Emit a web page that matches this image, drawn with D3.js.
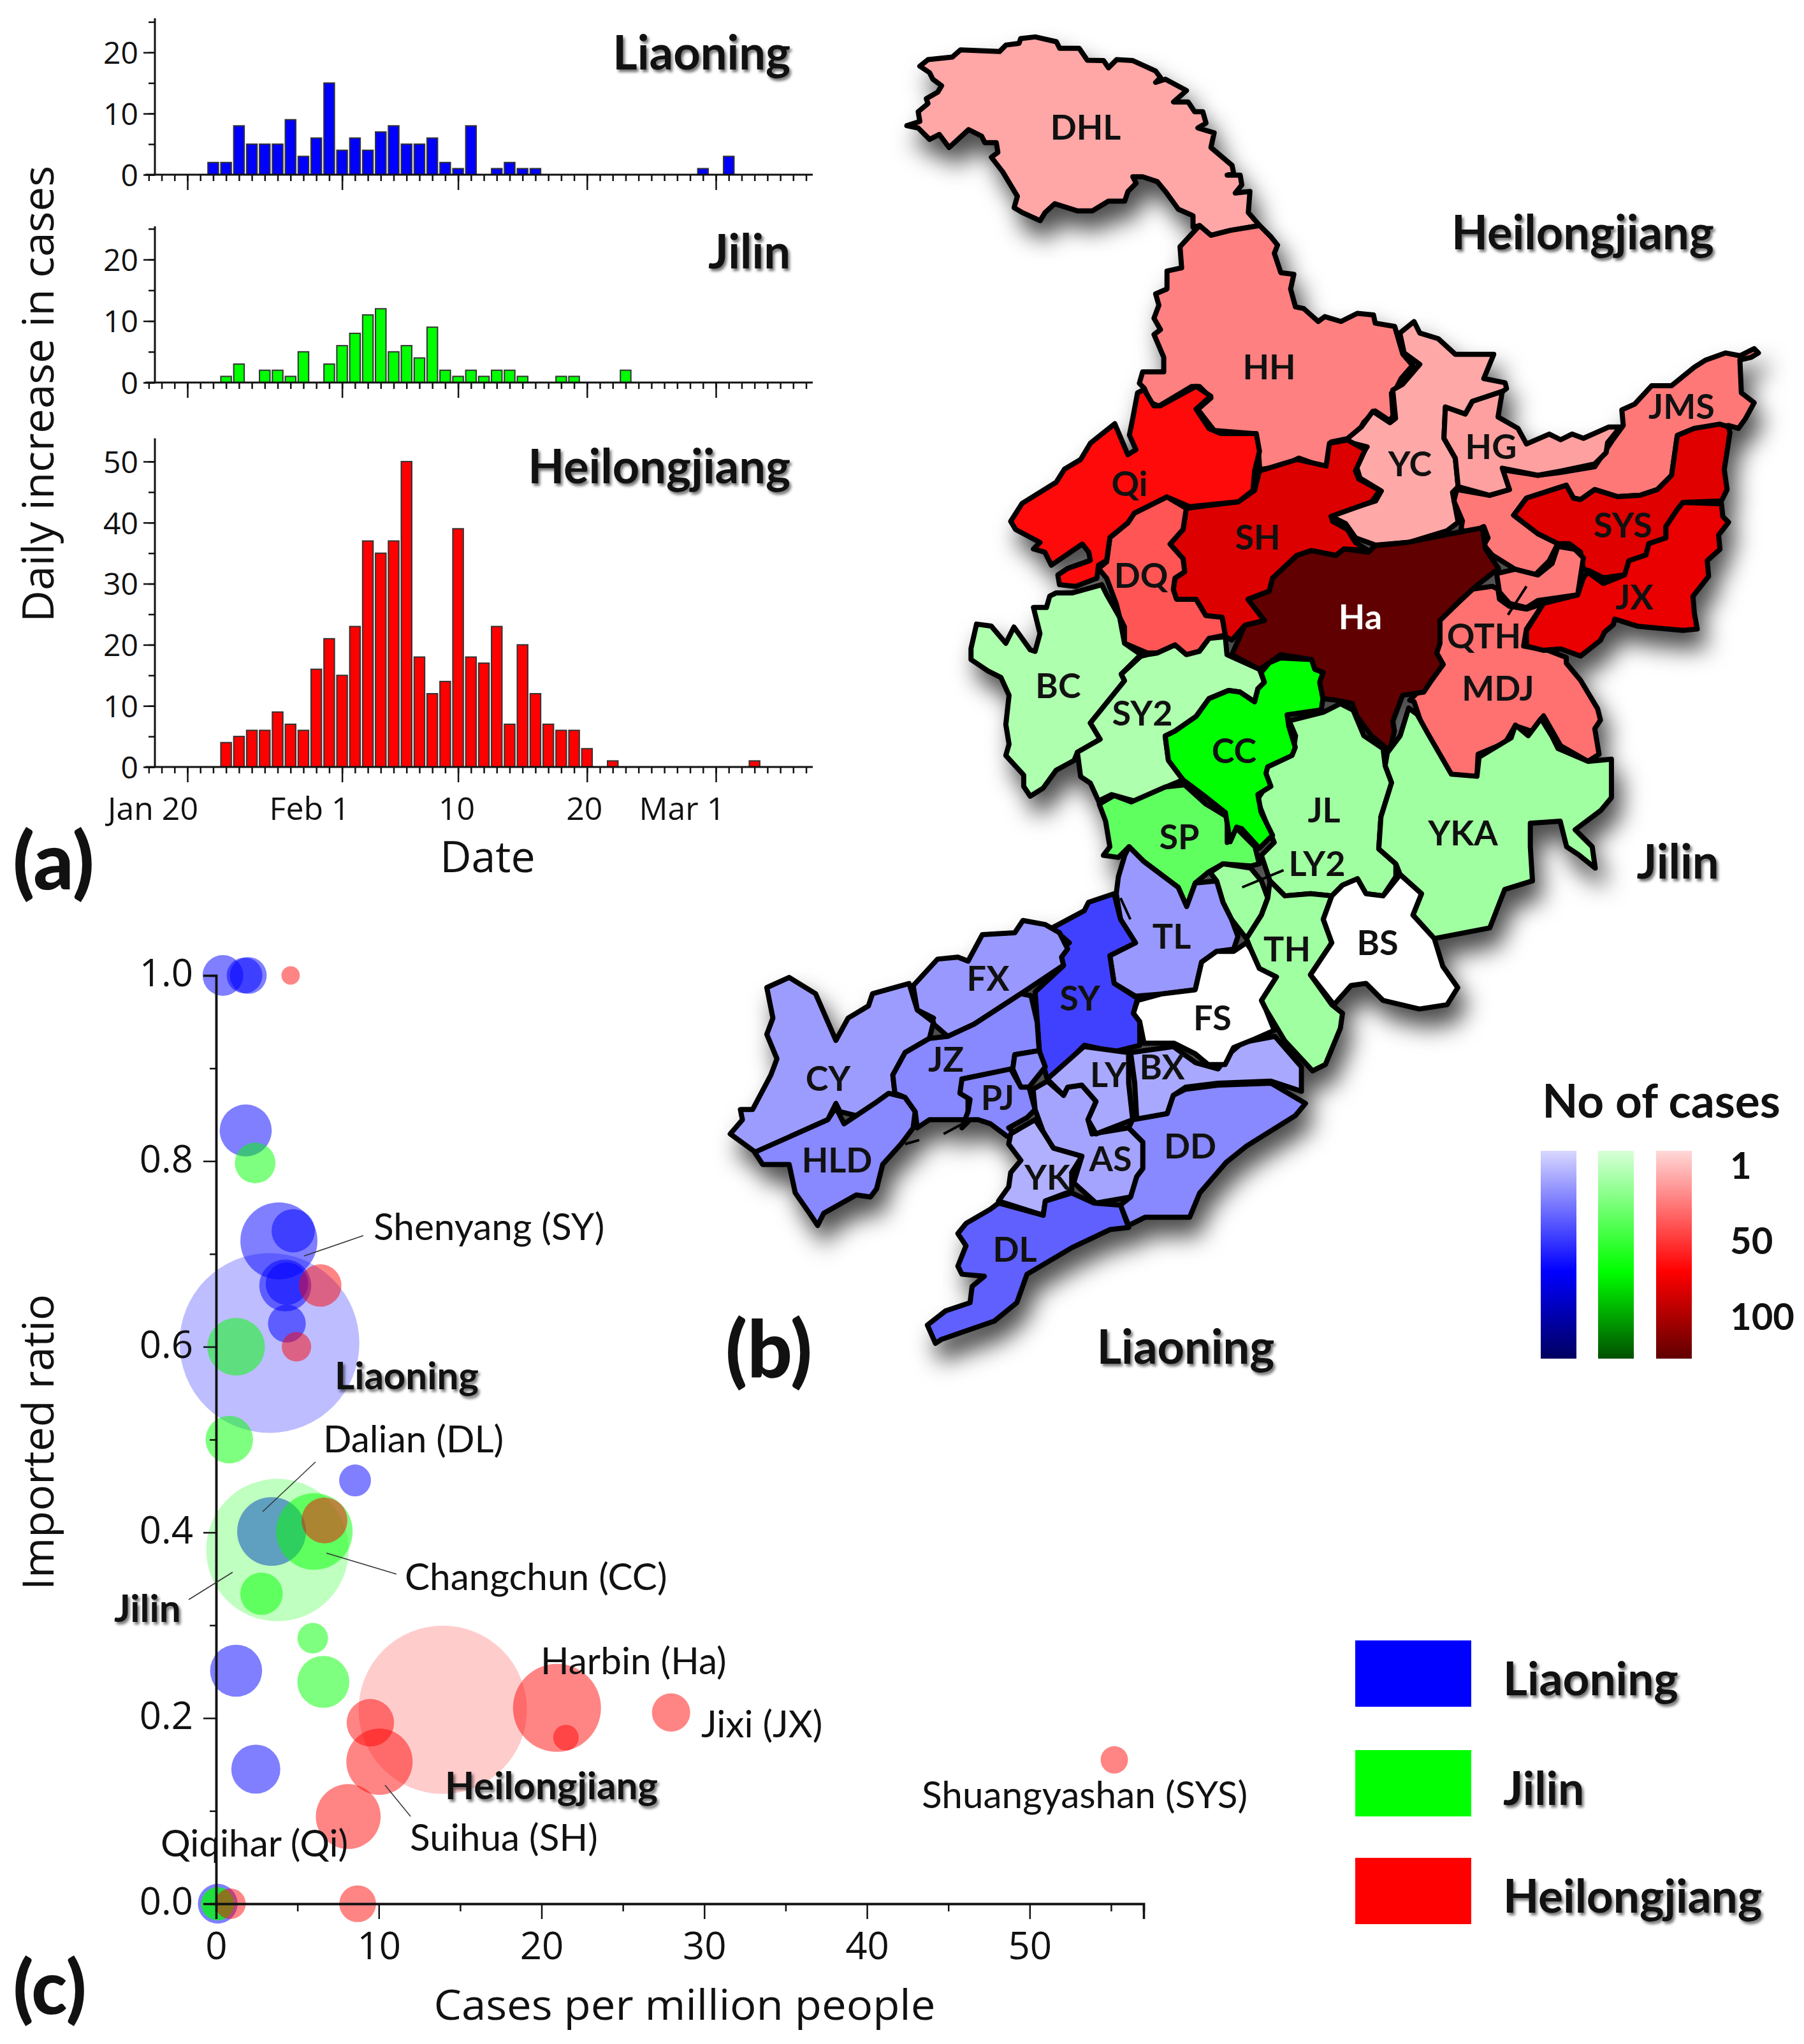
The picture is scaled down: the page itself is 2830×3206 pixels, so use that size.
<!DOCTYPE html>
<html>
<head>
<meta charset="utf-8">
<script src="https://cdn.jsdelivr.net/npm/d3@7"></script>
<style>
  body { margin: 0; background: #fff; }
  text { fill: #111; font-family: "Open Sans", sans-serif; }
  .bold { font-family: Lato, sans-serif; font-weight: 700; }
  .shadowed { filter: drop-shadow(3px 4px 2px rgba(0,0,0,.55)); }
  .note { font-family: Lato, sans-serif; font-size: 58.5px; }
  .region-label { font-family: Lato, sans-serif; font-weight: 700; font-size: 54px; }
</style>
</head>
<body>
<svg id="chart" width="2830" height="3206"></svg>
<script>
// ---- panel (a): daily new cases, index 0 = Jan 20 ----
const liaoningDaily = [0,0,2,2,8,5,5,5,9,3,6,15,4,6,4,7,8,5,5,6,2,1,8,0,1,2,1,1,0,0,0,0,0,0,0,0,0,0,0,0,1,0,3];
const jilinDaily = [0,0,0,1,3,0,2,2,1,5,0,3,6,8,11,12,5,6,4,9,2,1,2,1,2,2,1,0,0,1,1,0,0,0,2];
const heilongjiangDaily = [0,0,0,4,5,6,6,9,7,6,16,21,15,23,37,35,37,50,18,12,14,39,18,17,23,7,20,12,7,6,6,3,0,1,0,0,0,0,0,0,0,0,0,0,1];
const dateTickDays = [0, 12, 21, 31, 41];
const dateTickLabels = ['Jan 20', 'Feb 1', '10', '20', 'Mar 1'];

// ---- panel (c): x = cases per million, y = imported ratio, pop = millions ----
const liaoningCities = [
  {x:0.42,y:1,pop:2.2},{x:1.75,y:1,pop:1.7},{x:1.98,y:1,pop:1.8},{x:1.82,y:0.833,pop:3.6},
  {x:3.86,y:0.714,pop:7.9},{x:4.74,y:0.725,pop:2.5},{x:4.25,y:0.666,pop:3.6},{x:4.35,y:0.668,pop:2.4},
  {x:4.35,y:0.625,pop:1.9},{x:8.54,y:0.456,pop:1.35},{x:3.41,y:0.401,pop:6.3},{x:1.23,y:0.251,pop:3.6},
  {x:2.44,y:0.145,pop:3.2},{x:0.1,y:0,pop:2.1}
];
const jilinCities = [
  {x:2.4,y:0.798,pop:2.2},{x:1.23,y:0.6,pop:4.4},{x:0.81,y:0.5,pop:3},{x:6.04,y:0.401,pop:7.8},
  {x:2.79,y:0.334,pop:2.4},{x:5.94,y:0.286,pop:1.25},{x:6.59,y:0.239,pop:3.6},{x:0.1,y:0,pop:1.5},
  {x:0.1,y:0,pop:1.4}
];
const heilongjiangCities = [
  {x:4.58,y:1,pop:0.45},{x:6.4,y:0.666,pop:2.4},{x:4.94,y:0.6,pop:1.15},{x:6.66,y:0.413,pop:2.8},
  {x:20.95,y:0.211,pop:10.3},{x:21.5,y:0.179,pop:0.87},{x:27.96,y:0.206,pop:1.95},{x:9.48,y:0.195,pop:3},
  {x:10.04,y:0.153,pop:5.85},{x:8.12,y:0.094,pop:5.6},{x:8.7,y:0,pop:1.8},{x:0.88,y:0,pop:1.25},
  {x:55.2,y:0.155,pop:1}
];
const provinceTotals = [
  {name:'Liaoning',x:3.28,y:0.604,pop:43},
  {name:'Jilin',x:3.77,y:0.381,pop:27},
  {name:'Heilongjiang',x:13.93,y:0.209,pop:37.7}
];

// ---- panel (b): prefecture outlines, traced on square crops of the map ----
const cropFrames = {
  A: {x:1420, y:40, size:800},
  B: {x:1560, y:560, size:800},
  C: {x:2100, y:500, size:700},
  D: {x:1500, y:1000, size:1050},
  E: {x:1120, y:1380, size:1000}
};
const regionOutlines = [
  ['DHL','A','#ffa6a6',[[5,308],[45,295],[40,265],[70,240],[65,225],[100,205],[112,185],[85,165],[75,145],[45,125],[70,105],[145,97],[170,75],[290,80],[310,60],[350,55],[355,40],[400,35],[465,50],[475,70],[535,70],[560,107],[610,108],[625,130],[650,105],[700,108],[770,140],[785,160],[770,175],[800,165],[865,200],[825,235],[870,235],[890,265],[915,265],[925,300],[900,315],[950,330],[940,375],[1005,430],[1010,455],[990,460],[1030,460],[1035,490],[1015,515],[1060,510],[1055,575],[1090,615],[1000,630],[940,645],[905,615],[885,620],[885,585],[840,565],[800,510],[775,480],[730,465],[700,465],[710,485],[685,510],[675,540],[625,540],[575,570],[530,570],[460,548],[430,575],[415,600],[360,575],[335,560],[345,525],[300,450],[265,405],[285,390],[280,360],[245,360],[235,340],[195,320],[135,375],[105,335],[75,350],[40,315]]],
  ['HH','A','#ff8080',[[905,615],[940,645],[1000,630],[1090,615],[1125,650],[1145,675],[1135,700],[1155,760],[1195,765],[1185,810],[1200,865],[1225,870],[1270,910],[1290,895],[1340,910],[1390,885],[1440,890],[1445,915],[1505,925],[1530,1010],[1560,1045],[1525,1085],[1510,1115],[1495,1130],[1500,1200],[1490,1215],[1445,1185],[1410,1220],[1385,1265],[1310,1280],[1305,1350],[1280,1355],[1210,1330],[1160,1355],[1090,1365],[1085,1290],[1075,1255],[950,1245],[915,1200],[900,1180],[940,1145],[905,1110],[880,1110],[780,1170],[755,1160],[735,1115],[720,1100],[730,1065],[795,1065],[795,1020],[765,950],[785,935],[765,900],[780,860],[770,825],[805,810],[805,755],[850,745],[845,680]]],
  ['YC','C','#ffa8a8',[[215,50],[265,10],[285,50],[350,70],[410,125],[545,125],[510,210],[585,225],[590,245],[570,260],[470,290],[445,335],[375,310],[370,420],[410,490],[420,590],[400,610],[420,715],[380,745],[250,785],[130,795],[60,770],[25,720],[-27,694],[20,675],[130,640],[150,605],[75,560],[60,510],[100,450],[20,430],[80,380],[120,325],[180,365],[200,350],[190,250],[225,230],[285,160],[230,120]]],
  ['SH','B','#dd0000',[[590,465],[750,445],[800,410],[815,350],[930,315],[1020,335],[1030,265],[1085,255],[1140,285],[1110,350],[1120,375],[1185,410],[1160,445],[1035,490],[1040,505],[1085,530],[1110,570],[1150,595],[1075,590],[1050,610],[975,595],[930,610],[855,680],[845,720],[780,745],[830,810],[770,825],[730,870],[710,860],[700,800],[650,795],[620,745],[560,745],[550,715],[555,680],[585,660],[580,620],[540,575],[580,530]]],
  ['DQ','B','#ff5555',[[355,555],[410,510],[430,480],[530,430],[590,465],[580,530],[540,575],[580,620],[585,660],[555,680],[550,715],[560,745],[620,745],[650,795],[700,800],[710,855],[660,865],[630,905],[590,915],[555,885],[500,910],[470,910],[400,880],[400,830],[385,800],[375,760],[345,680],[320,650],[345,630]]],
  ['Qi','B','#ff0a0a',[[50,505],[85,450],[190,385],[215,345],[265,315],[295,265],[370,205],[410,300],[435,285],[415,240],[425,190],[440,110],[460,100],[490,150],[510,150],[620,90],[665,120],[620,160],[660,220],[695,235],[805,235],[815,290],[800,350],[795,410],[750,445],[600,460],[530,430],[490,450],[430,480],[410,510],[355,555],[345,625],[320,640],[315,680],[250,705],[200,700],[195,670],[225,650],[295,625],[290,600],[270,575],[175,640],[155,600],[120,590],[140,570],[65,530]]],
  ['JMS','C','#ff7878',[[415,600],[530,620],[600,600],[570,530],[700,550],[780,540],[900,520],[960,430],[1000,375],[995,320],[1040,300],[1100,235],[1170,235],[1250,170],[1290,145],[1360,120],[1410,130],[1460,105],[1475,120],[1450,135],[1410,145],[1415,260],[1460,295],[1430,350],[1405,385],[1370,375],[1250,385],[1190,410],[1170,550],[1120,600],[1060,620],[980,625],[900,600],[850,635],[825,630],[800,585],[660,630],[615,690],[700,755],[770,790],[740,850],[690,900],[620,880],[540,830],[510,795],[525,770],[510,730],[460,755],[430,740],[435,710],[405,640]]],
  ['HG','C','#ffa0a0',[[375,310],[445,335],[470,290],[575,255],[560,345],[630,385],[660,440],[740,405],[780,425],[820,405],[860,420],[950,380],[990,380],[945,435],[940,470],[900,510],[780,535],[700,550],[575,525],[600,600],[530,620],[420,590],[410,490],[370,420]]],
  ['SYS','C','#e00000',[[615,690],[660,630],[800,585],[825,630],[850,635],[900,600],[980,625],[1060,620],[1120,600],[1170,550],[1190,410],[1250,385],[1340,370],[1370,380],[1375,400],[1355,530],[1365,600],[1345,640],[1210,645],[1190,670],[1150,730],[1150,770],[1090,790],[1080,830],[1020,850],[1005,900],[930,910],[880,885],[860,880],[850,820],[810,790],[770,790],[700,755]]],
  ['MDJ','C','#ff7070',[[250,1340],[310,1280],[355,1215],[340,1170],[355,1060],[470,950],[540,940],[560,950],[565,985],[600,1010],[660,1020],[720,1000],[660,1090],[650,1150],[735,1165],[800,1190],[800,1210],[850,1270],[910,1370],[920,1410],[900,1440],[915,1530],[876,1555],[780,1500],[720,1395],[680,1450],[620,1430],[585,1490],[490,1530],[486,1608],[396,1606],[290,1420],[265,1345]]],
  ['QTH','C','#ff7878',[[555,895],[620,880],[700,900],[750,860],[770,800],[830,810],[860,840],[840,970],[700,990],[660,1015],[600,1000],[565,960]]],
  ['JX','C','#ea0000',[[660,1095],[720,1000],[840,970],[860,910],[875,890],[930,930],[1005,900],[1020,850],[1080,830],[1090,790],[1150,770],[1150,730],[1190,670],[1210,645],[1345,650],[1350,695],[1370,715],[1335,760],[1340,810],[1295,850],[1300,905],[1245,975],[1250,1035],[1260,1090],[1210,1095],[1050,1080],[970,1055],[965,1075],[935,1100],[920,1130],[850,1185],[780,1160],[720,1165],[660,1150]]],
  ['BC','B','#aeffae',[[190,725],[240,725],[330,700],[345,730],[385,800],[400,880],[450,915],[390,975],[400,995],[295,1125],[325,1175],[255,1215],[245,1240],[190,1270],[150,1325],[110,1350],[90,1320],[90,1285],[35,1225],[45,1190],[35,1130],[45,1040],[20,985],[-20,965],[-72,930],[-72,896],[-55,821],[-10,827],[35,880],[60,830],[110,900],[125,905],[140,850],[120,770],[160,770],[170,735]]],
  ['SY2','B','#aeffae',[[450,920],[470,915],[500,910],[555,885],[590,915],[630,905],[660,865],[710,860],[715,915],[815,960],[830,1000],[810,1020],[800,1060],[755,1030],[720,1025],[660,1050],[620,1105],[555,1150],[525,1165],[535,1240],[580,1300],[520,1325],[430,1365],[360,1345],[320,1365],[295,1310],[265,1290],[255,1215],[325,1175],[295,1125],[400,995],[390,975]]],
  ['Ha','B','#600000',[[770,825],[830,810],[780,745],[845,720],[855,680],[930,610],[975,595],[1050,610],[1075,590],[1150,600],[1170,580],[1270,570],[1420,540],[1500,525],[1510,590],[1550,650],[1480,705],[1430,750],[1370,810],[1370,880],[1360,910],[1380,945],[1340,1000],[1320,1030],[1255,1040],[1225,1120],[1230,1150],[1215,1210],[1160,1165],[1115,1105],[1100,1065],[1050,1055],[1010,1050],[1000,1000],[1010,970],[985,960],[975,930],[880,915],[845,940],[815,960],[730,915]]],
  ['JL','D','#a0ffa0',[[780,195],[860,175],[900,155],[930,170],[955,230],[1000,260],[1005,300],[1020,340],[995,420],[990,495],[1030,530],[1030,560],[1000,605],[960,600],[940,565],[905,580],[880,605],[830,600],[770,605],[735,570],[715,510],[745,480],[705,380],[725,350],[720,305],[790,265],[795,230]]],
  ['YKA','D','#a0ffa0',[[1010,270],[1040,230],[1060,165],[1080,180],[1105,225],[1160,320],[1220,325],[1225,280],[1300,235],[1310,205],[1340,230],[1370,190],[1395,230],[1410,260],[1480,290],[1535,285],[1535,375],[1510,405],[1450,450],[1490,490],[1497,540],[1460,510],[1430,490],[1415,430],[1345,435],[1345,490],[1350,570],[1285,590],[1250,680],[1120,705],[1070,650],[1090,600],[1040,555],[1030,530],[990,495],[995,420],[1020,340],[1005,300]]],
  ['SP','D','#60ff60',[[335,390],[370,370],[410,385],[490,350],[535,345],[585,390],[635,420],[635,480],[655,445],[700,490],[710,530],[690,535],[625,530],[590,550],[560,575],[540,630],[520,585],[440,525],[405,490],[380,515],[345,510],[360,490],[350,430]]],
  ['CC','B','#00ff00',[[845,940],[880,925],[975,930],[985,960],[1010,970],[1000,1000],[1010,1050],[1005,1085],[900,1100],[905,1135],[925,1200],[915,1225],[840,1260],[835,1280],[850,1320],[810,1345],[820,1400],[855,1470],[815,1510],[760,1450],[745,1445],[725,1490],[710,1400],[640,1345],[580,1300],[535,1240],[525,1165],[555,1150],[620,1105],[660,1050],[720,1025],[755,1030],[800,1060],[810,1020],[830,1000],[820,970]]],
  ['LY2','D','#a0ffa0',[[595,550],[625,530],[690,540],[715,570],[730,610],[715,650],[680,705],[645,660],[625,620],[610,570]]],
  ['TH','D','#a0ffa0',[[735,570],[770,605],[830,600],[880,605],[860,660],[880,715],[830,790],[880,860],[905,880],[900,915],[865,1000],[835,1015],[770,945],[725,870],[715,850],[750,795],[710,775],[690,730],[680,705],[715,650],[730,610]]],
  ['BX','E','#a8a8ff',[[1025,425],[1130,410],[1185,450],[1240,465],[1265,430],[1300,400],[1380,385],[1445,460],[1445,520],[1370,495],[1240,500],[1160,510],[1130,530],[1115,575],[1040,590],[1035,500]]],
  ['BS','D','#ffffff',[[905,580],[940,565],[960,600],[1000,605],[1040,555],[1090,600],[1070,650],[1120,705],[1140,770],[1175,820],[1150,860],[1085,870],[1000,850],[960,810],[925,815],[885,860],[830,790],[880,715],[860,660],[880,605]]],
  ['TL','D','#9898ff',[[395,510],[405,490],[440,525],[520,585],[540,630],[560,575],[610,570],[625,620],[645,660],[660,700],[650,730],[610,735],[575,760],[560,825],[480,835],[420,840],[370,810],[360,745],[420,715],[385,660],[375,600],[380,560]]],
  ['FS','D','#ffffff',[[425,850],[480,835],[560,825],[575,760],[610,735],[650,735],[680,715],[690,730],[710,775],[750,795],[715,850],[725,870],[745,920],[700,940],[650,960],[630,1000],[590,1000],[560,975],[510,950],[440,950],[430,900],[415,880]]],
  ['SY','D','#4040ff',[[300,640],[310,620],[370,600],[385,660],[420,715],[360,745],[370,810],[425,845],[415,880],[430,900],[430,955],[370,970],[300,955],[215,1040],[195,970],[185,830],[250,770],[245,730],[265,715],[225,680]]],
  ['FX','E','#9898ff',[[495,255],[550,195],[600,190],[625,200],[660,135],[740,130],[760,100],[815,110],[850,130],[870,170],[855,190],[860,210],[755,280],[640,355],[575,385],[535,350],[540,340],[500,320],[490,260]]],
  ['CY','E','#9c9cff',[[40,625],[70,590],[65,565],[95,565],[140,480],[155,440],[130,380],[145,340],[130,265],[185,240],[250,280],[300,395],[330,340],[380,310],[390,280],[480,255],[500,320],[540,350],[530,390],[470,425],[440,480],[445,525],[395,550],[350,580],[310,570],[300,550],[280,590],[190,630],[120,680],[95,665]]],
  ['HLD','E','#8888ff',[[100,670],[190,630],[280,590],[300,560],[320,600],[350,580],[395,550],[430,525],[470,535],[495,570],[490,610],[460,650],[415,700],[400,760],[385,780],[350,775],[270,820],[255,850],[235,820],[200,770],[185,700],[120,700]]],
  ['JZ','E','#8888ff',[[445,525],[440,480],[470,425],[530,390],[575,385],[640,355],[755,280],[780,285],[795,350],[800,420],[740,430],[735,465],[610,490],[625,530],[625,570],[630,590],[530,590],[500,610],[495,570],[470,535]]],
  ['JZ2','E','#9090ff',[[740,430],[800,420],[815,460],[775,510],[755,510],[735,465]]],
  ['PJ','E','#8888ff',[[610,490],[730,465],[755,510],[775,510],[790,565],[770,585],[725,610],[755,640],[720,630],[680,600],[650,590],[630,590],[610,610],[625,570],[630,540],[605,525]]],
  ['AS','E','#a4a4ff',[[785,515],[820,495],[860,530],[870,510],[905,505],[940,545],[920,590],[930,625],[1020,610],[1055,645],[1055,710],[1040,730],[1025,780],[940,795],[885,745],[905,680],[835,660],[810,620],[790,565]]],
  ['LY','E','#a8a8ff',[[820,490],[910,410],[1020,425],[1020,500],[1030,590],[940,625],[920,590],[940,545],[905,505],[870,510],[860,530]]],
  ['YK','E','#b0b0ff',[[790,590],[810,620],[835,660],[905,680],[880,720],[880,765],[815,790],[810,825],[700,790],[725,755],[730,720],[755,690],[725,650],[730,625],[755,610]]],
  ['DD','E','#8888ff',[[1130,530],[1160,515],[1240,505],[1370,500],[1455,550],[1430,580],[1310,655],[1260,695],[1195,770],[1170,830],[1060,830],[1020,850],[1000,800],[1025,780],[1040,730],[1055,710],[1055,645],[1020,610],[1030,590],[1115,575]]],
  ['DL','E','#6060ff',[[700,795],[810,825],[815,790],[880,770],[935,795],[1000,800],[1020,855],[975,860],[880,905],[770,970],[745,1040],[690,1085],[560,1130],[545,1140],[525,1095],[570,1060],[630,1040],[635,1000],[665,975],[610,970],[600,950],[620,900],[600,870],[620,845],[680,810]]]
];
const regionPointers = [
  ['D',[670,585],[767,545]],
  ['C',[595,1040],[660,940]],
  ['E',[565,625],[630,590]],
  ['E',[470,650],[505,640]],
  ['D',[385,610],[408,660]]
];
const regionLabels = [
  ['DHL',1703,200],['HH',1991,576],['Qi',1772,759],['DQ',1790,903],['SH',1973,843],['Ha',2134,968],
  ['YC',2212,728],['HG',2339,701],['JMS',2638,638],['SYS',2546,824],['JX',2564,937],['QTH',2328,998],
  ['MDJ',2350,1080],['BC',1660,1076],['SY2',1792,1119],['CC',1936,1178],['JL',2077,1271],['LY2',2066,1355],
  ['YKA',2295,1307],['SP',1850,1313],['TL',1838,1469],['TH',2019,1489],['BS',2161,1479],['FS',1902,1597],
  ['SY',1694,1566],['FX',1550,1535],['JZ',1484,1662],['CY',1299,1692],['HLD',1313,1820],['PJ',1565,1722],
  ['LY',1739,1686],['BX',1823,1674],['AS',1742,1818],['YK',1643,1847],['DD',1867,1798],['DL',1592,1960]
];
const legendRamps = [
  ['#d8d8ff','#0000ff','#000060'],
  ['#d8ffd8','#00ff00','#005000'],
  ['#ffd8d8','#ff0000','#600000']
];
const legendRampLabels = ['1', '50', '100'];
const provinceNames = ['Liaoning', 'Jilin', 'Heilongjiang'];
const provinceColors = ['#0000ff', '#00ff00', '#ff0000'];

const svg = d3.select('#chart');

// Set up shared date scale for panel (a)
const dayX = d3.scaleLinear().domain([0, 41]).range([294, 1123]);
const barWidth = 16.5;

function drawBarPanel(values, color, y0, yTop, maxVal, step, title, titleY) {
    const y = d3.scaleLinear().domain([0, maxVal]).range([y0, yTop]);
    const g = svg.append('g');

    g.selectAll('rect')
        .data(values.map((v, i) => ({ day: i, v: v })).filter(d => d.v > 0))
        .enter()
        .append('rect')
        .attr('x', d => dayX(d.day) - barWidth / 2)
        .attr('y', d => y(d.v))
        .attr('width', barWidth)
        .attr('height', d => y0 - y(d.v))
        .attr('fill', color)
        .attr('stroke', '#333')
        .attr('stroke-width', 2);

    // minor and major ticks along the bottom
    g.append('g').attr('transform', `translate(0,${y0})`)
        .call(d3.axisBottom(dayX).tickValues(d3.range(-3, 49)).tickSize(10).tickFormat(''))
        .call(a => a.select('.domain').remove());
    g.append('g').attr('transform', `translate(0,${y0})`)
        .call(d3.axisBottom(dayX).tickValues(dateTickDays).tickSize(24).tickFormat(''))
        .call(a => a.select('.domain').remove());
    g.append('line').attr('x1', 228).attr('x2', 1275).attr('y1', y0).attr('y2', y0)
        .attr('stroke', '#111').attr('stroke-width', 3);

    // y axis
    g.append('g').attr('transform', 'translate(243,0)')
        .call(d3.axisLeft(y).tickValues(d3.range(0, maxVal, step / 2)).tickSize(10).tickFormat(''))
        .call(a => a.select('.domain').remove());
    g.append('g').attr('transform', 'translate(243,0)')
        .call(d3.axisLeft(y).tickValues(d3.range(0, maxVal, step)).tickSize(18).tickPadding(8))
        .call(a => a.select('.domain').remove())
        .call(a => a.selectAll('text').style('font-size', '48px').attr('dy', '.36em')
            .style('font-family', '"Open Sans"').attr('fill', '#111'));
    g.append('line').attr('x1', 243).attr('x2', 243).attr('y1', yTop).attr('y2', y0)
        .attr('stroke', '#111').attr('stroke-width', 3);
    g.selectAll('.tick line').attr('stroke', '#111').attr('stroke-width', 2.5);

    svg.append('text').attr('class', 'bold shadowed')
        .attr('x', 1240).attr('y', titleY).attr('text-anchor', 'end')
        .attr('dy', '.35em').style('font-size', '74px').text(title);
}

drawBarPanel(liaoningDaily, '#0000ff', 274, 28.6, 25.6, 10, 'Liaoning', 83);
drawBarPanel(jilinDaily, '#00ff00', 600, 355, 25.4, 10, 'Jilin', 395);
drawBarPanel(heilongjiangDaily, '#ff0000', 1203, 687.5, 53.8, 10, 'Heilongjiang', 732);

// tick labels sit left of their ticks in the original
const dateLabelOffset = [-54, -51, -2, -4, -53];
svg.selectAll('.date-label')
    .data(dateTickDays)
    .enter()
    .append('text')
    .attr('class', 'date-label')
    .attr('x', (d, i) => dayX(d) + dateLabelOffset[i])
    .attr('y', 1268).attr('dy', '.35em').attr('text-anchor', 'middle')
    .style('font-size', '50px')
    .text((d, i) => dateTickLabels[i]);

svg.append('text').attr('x', 765).attr('y', 1344).attr('dy', '.35em').attr('text-anchor', 'middle')
    .style('font-size', '68px').text('Date');
svg.append('text').attr('transform', 'translate(60,618) rotate(-90)').attr('dy', '.35em')
    .attr('text-anchor', 'middle').style('font-size', '68px')
    .attr('textLength', 716).attr('lengthAdjust', 'spacingAndGlyphs').text('Daily increase in cases');

// Panel letters
[['(a)', 84, 1352, 124], ['(b)', 1206, 2118, 124], ['(c)', 78, 3118, 116]].forEach(p => {
    svg.append('text').attr('class', 'bold').attr('x', p[1]).attr('y', p[2]).attr('dy', '.35em')
        .attr('text-anchor', 'middle').style('font-size', p[3] + 'px').style('font-weight', 900).text(p[0]);
});

// ---- panel (b) map ----
const frameScales = {};
Object.keys(cropFrames).forEach(k => {
    const f = cropFrames[k];
    frameScales[k] = {
        x: d3.scaleLinear().domain([0, 1568]).range([f.x, f.x + f.size]),
        y: d3.scaleLinear().domain([0, 1568]).range([f.y, f.y + f.size])
    };
});
const mapGroup = svg.append('g').style('filter', 'drop-shadow(12px 26px 18px rgba(0,0,0,.7))');
regionOutlines.forEach(r => {
    const s = frameScales[r[1]];
    const outline = d3.line().x(p => s.x(p[0])).y(p => s.y(p[1])).curve(d3.curveLinearClosed);
    mapGroup.append('path').attr('d', outline(r[3])).attr('fill', r[2])
        .attr('stroke', '#000').attr('stroke-width', 8).attr('stroke-linejoin', 'round');
});
regionPointers.forEach(p => {
    const s = frameScales[p[0]];
    mapGroup.append('line').attr('x1', s.x(p[1][0])).attr('y1', s.y(p[1][1]))
        .attr('x2', s.x(p[2][0])).attr('y2', s.y(p[2][1]))
        .attr('stroke', '#000').attr('stroke-width', 4);
});
svg.selectAll('.region-label')
    .data(regionLabels)
    .enter()
    .append('text')
    .attr('class', 'region-label')
    .attr('x', d => d[1]).attr('y', d => d[2]).attr('dy', '.35em').attr('text-anchor', 'middle')
    .style('fill', d => d[0] === 'Ha' ? '#fff' : '#111')
    .text(d => d[0]);

[['Heilongjiang', 2483, 365], ['Jilin', 2632, 1352], ['Liaoning', 1860, 2113]].forEach(p => {
    svg.append('text').attr('class', 'bold shadowed').attr('x', p[1]).attr('y', p[2]).attr('dy', '.35em')
        .attr('text-anchor', 'middle').style('font-size', '74px').text(p[0]);
});

// colour ramps
const defs = svg.append('defs');
legendRamps.forEach((ramp, i) => {
    const grad = defs.append('linearGradient').attr('id', 'ramp' + i)
        .attr('x1', 0).attr('x2', 0).attr('y1', 0).attr('y2', 1);
    [0, 0.58, 1].forEach((o, j) => grad.append('stop').attr('offset', o).attr('stop-color', ramp[j]));
});
const rampX = [2417, 2507, 2598];
legendRamps.forEach((ramp, i) => {
    svg.append('rect').attr('x', rampX[i]).attr('y', 1805).attr('width', 56).attr('height', 326)
        .attr('fill', `url(#ramp${i})`);
});
svg.append('text').attr('class', 'bold').attr('x', 2606).attr('y', 1727).attr('dy', '.35em')
    .attr('text-anchor', 'middle').style('font-size', '73px').text('No of cases');
const rampLabelY = [1829, 1947, 2066];
legendRampLabels.forEach((t, i) => {
    svg.append('text').attr('class', 'bold').attr('x', 2714).attr('y', rampLabelY[i]).attr('dy', '.35em')
        .style('font-size', '58px').text(t);
});

// ---- panel (c) bubbles ----
const x = d3.scaleLinear().domain([0, 57]).range([339, 1794]);
const y = d3.scaleLinear().domain([0, 1]).range([2986, 1530]);
const r = d3.scaleSqrt().domain([0, 43]).range([0, 141]);

const bubbleGroup = svg.append('g');
function drawBubbles(data, color, opacity) {
    bubbleGroup.selectAll(null)
        .data(data)
        .enter()
        .append('circle')
        .attr('cx', d => x(d.x))
        .attr('cy', d => y(d.y))
        .attr('r', d => r(d.pop))
        .attr('fill', color)
        .attr('fill-opacity', opacity);
}
drawBubbles(liaoningCities, '#0000ff', 0.5);
drawBubbles(provinceTotals.filter(d => d.name === 'Liaoning'), '#0000ff', 0.26);
drawBubbles(jilinCities, '#00ff00', 0.5);
drawBubbles(provinceTotals.filter(d => d.name === 'Jilin'), '#00ff00', 0.25);
drawBubbles(heilongjiangCities, '#ff0000', 0.48);
drawBubbles(provinceTotals.filter(d => d.name === 'Heilongjiang'), '#ff0000', 0.2);

// axes
svg.append('g').attr('transform', 'translate(339,0)')
    .call(d3.axisLeft(y).tickValues(d3.range(0.1, 1, 0.2)).tickSize(10).tickFormat(''));
svg.append('g').attr('transform', 'translate(339,0)')
    .call(d3.axisLeft(y).tickValues(d3.range(0, 1.01, 0.2)).tickSize(20).tickPadding(16).tickFormat(d3.format('.1f')))
    .call(a => a.selectAll('text').style('font-size', '60px').attr('y', 0).attr('dy', '.28em'));
svg.append('g').attr('transform', 'translate(0,2986)')
    .call(d3.axisBottom(x).tickValues(d3.range(5, 57, 10)).tickSize(12).tickFormat(''));
svg.append('g').attr('transform', 'translate(0,2986)')
    .call(d3.axisBottom(x).tickValues(d3.range(0, 51, 10)).tickSize(24).tickPadding(20).tickFormat(d3.format('d')))
    .call(a => a.selectAll('text').style('font-size', '60px'));
svg.selectAll('.domain').attr('stroke', '#111').attr('stroke-width', 3.5);
svg.selectAll('.tick line').attr('stroke', '#111').attr('stroke-width', 2.5);

svg.append('text').attr('x', 1074).attr('y', 3145).attr('dy', '.35em').attr('text-anchor', 'middle')
    .style('font-size', '66px').attr('textLength', 787).attr('lengthAdjust', 'spacingAndGlyphs')
    .text('Cases per million people');
svg.append('text').attr('transform', 'translate(60,2262) rotate(-90)').attr('dy', '.35em')
    .attr('text-anchor', 'middle').style('font-size', '68px').attr('textLength', 464)
    .attr('lengthAdjust', 'spacingAndGlyphs').text('Imported ratio');

// annotations
const noteTexts = [
    ['Shenyang (SY)', 586, 1925], ['Dalian (DL)', 507, 2258], ['Changchun (CC)', 635, 2474],
    ['Harbin (Ha)', 848, 2606], ['Jixi (JX)', 1100, 2705], ['Qiqihar (Qi)', 252, 2892],
    ['Suihua (SH)', 643, 2883], ['Shuangyashan (SYS)', 1446, 2816]
];
noteTexts.forEach(n => {
    svg.append('text').attr('class', 'note').attr('x', n[1]).attr('y', n[2]).attr('dy', '.35em').text(n[0]);
});
[['Liaoning', 525, 2158], ['Jilin', 179, 2523], ['Heilongjiang', 698, 2801]].forEach(n => {
    svg.append('text').attr('class', 'bold shadowed').attr('x', n[1]).attr('y', n[2]).attr('dy', '.35em')
        .style('font-size', '60px').text(n[0]);
});
const noteLeaders = [
    [570, 1938, 477, 1970], [495, 2293, 412, 2371], [622, 2469, 512, 2436],
    [296, 2509, 365, 2466], [644, 2849, 604, 2800]
];
svg.selectAll('.leader')
    .data(noteLeaders)
    .enter()
    .append('line')
    .attr('class', 'leader')
    .attr('x1', d => d[0]).attr('y1', d => d[1]).attr('x2', d => d[2]).attr('y2', d => d[3])
    .attr('stroke', '#333').attr('stroke-width', 1.5);

// ---- province key ----
const keyY = [2573, 2745, 2914];
provinceNames.forEach((name, i) => {
    svg.append('rect').attr('x', 2126).attr('y', keyY[i]).attr('width', 182).attr('height', 104)
        .attr('fill', provinceColors[i]);
    svg.append('text').attr('class', 'bold shadowed').attr('x', 2358).attr('y', keyY[i] + 60)
        .attr('dy', '.35em').style('font-size', '73px').text(name);
});
</script>
</body>
</html>
